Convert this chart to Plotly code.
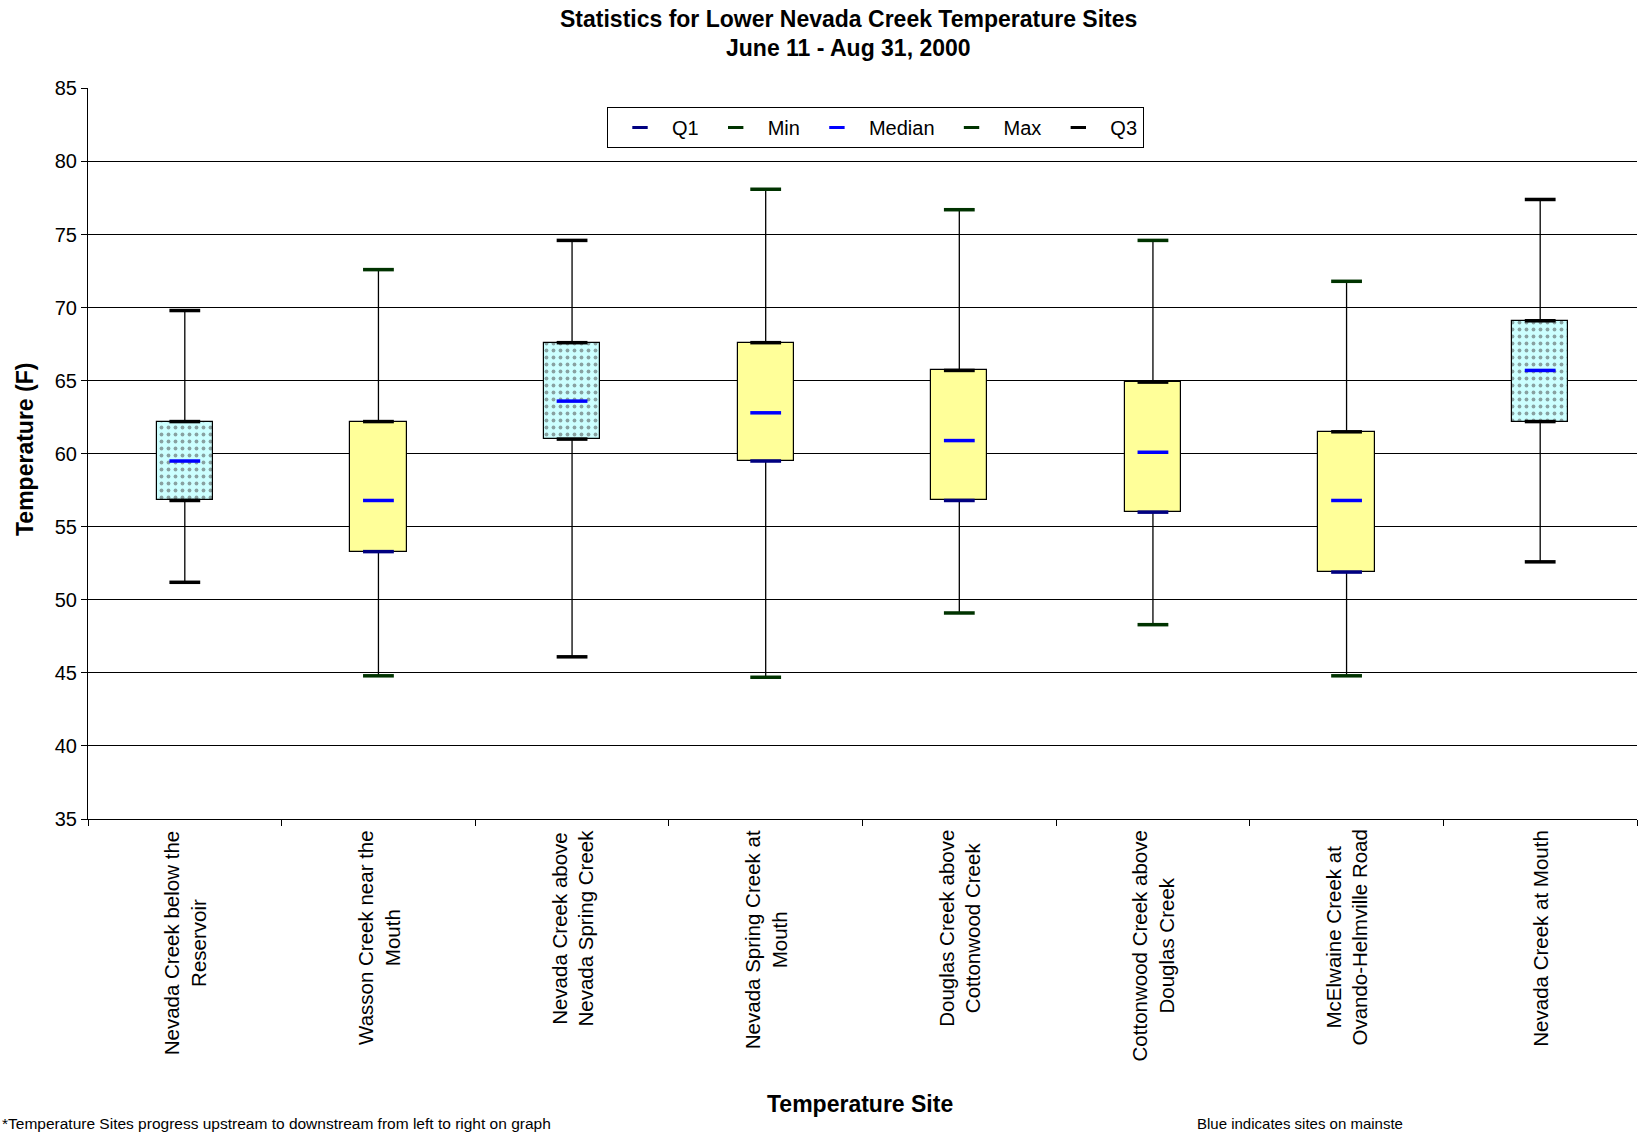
import plotly.graph_objects as go

# ---------------- data ----------------
sites = [
    "Nevada Creek below the<br>Reservoir",
    "Wasson Creek near the<br>Mouth",
    "Nevada Creek above<br>Nevada Spring Creek",
    "Nevada Spring Creek at<br>Mouth",
    "Douglas Creek above<br>Cottonwood Creek",
    "Cottonwood Creek above<br>Douglas Creek",
    "McElwaine Creek at<br>Ovando-Helmville Road",
    "Nevada Creek at Mouth",
]
q1 = [56.8, 53.3, 61.0, 59.5, 56.8, 56.0, 51.9, 62.2]
min_t = [51.2, 44.8, 46.1, 44.7, 49.1, 48.3, 44.8, 52.6]
median = [59.5, 56.8, 63.6, 62.8, 60.9, 60.1, 56.8, 65.7]
max_t = [69.8, 72.6, 74.6, 78.1, 76.7, 74.6, 71.8, 77.4]
q3 = [62.2, 62.2, 67.6, 67.6, 65.7, 64.9, 61.5, 69.1]
mainstem = [True, False, True, False, False, False, False, True]
y_ticks = [35, 40, 45, 50, 55, 60, 65, 70, 75, 80, 85]

# ---------------- layout geometry ----------------
W, H = 1640, 1134
L, R, T, B = 88, 3, 88, 315
PW, PH = W - L - R, H - T - B
FONT = "Liberation Sans, Arial, sans-serif"


def px_x(x):
    return (x - L) / PW


def px_y(y):
    return (H - B - y) / PH


series_colors = {
    "Q1": "#000080",
    "Min": "#003300",
    "Median": "#0000FF",
    "Max": "#003300",
    "Q3": "#000000",
}

fig = go.Figure()

# high-low lines (min to Q1, Q3 to max)
wx, wy = [], []
for s, lo, a, b, hi in zip(sites, min_t, q1, q3, max_t):
    wx += [s, s, None, s, s, None]
    wy += [lo, a, None, b, hi, None]
fig.add_trace(go.Scatter(x=wx, y=wy, mode="lines",
                         line=dict(color="#000000", width=1.3),
                         showlegend=False, hoverinfo="skip"))

# Q1 - Q3 boxes
fig.add_trace(go.Bar(
    x=sites,
    y=[b - a for a, b in zip(q1, q3)],
    base=q1,
    width=0.29,
    marker=dict(
        color=["#CCFFFF" if m else "#FFFF99" for m in mainstem],
        line=dict(color="#000000", width=1.2),
        pattern=dict(shape=["." if m else "" for m in mainstem],
                     fgcolor="#333333", size=7, solidity=0.24),
    ),
    showlegend=False, hoverinfo="skip",
))

# caps / markers
series = [("Q1", q1), ("Min", min_t), ("Median", median), ("Max", max_t), ("Q3", q3)]
for name, vals in series:
    base_col = series_colors[name]
    if name == "Median":
        cols = [base_col] * len(sites)
    else:
        cols = ["#000000" if m else base_col for m in mainstem]
    fig.add_trace(go.Scatter(
        x=sites, y=vals, mode="markers", name=name,
        marker=dict(symbol="line-ew", size=22,
                    line=dict(color=cols, width=3.5)),
        showlegend=False,
    ))

# legend entries
for name, _ in series:
    fig.add_trace(go.Scatter(
        x=[sites[0]], y=[None], mode="markers", name=name,
        marker=dict(symbol="line-ew", size=11,
                    line=dict(color=series_colors[name], width=3)),
        showlegend=True,
    ))

fig.update_layout(
    width=W, height=H,
    margin=dict(l=L, r=R, t=T, b=B),
    paper_bgcolor="white", plot_bgcolor="white",
    font=dict(family=FONT, size=20, color="#000000"),
    bargap=0,
    legend=dict(
        orientation="h",
        x=px_x(607), y=px_y(107), xanchor="left", yanchor="top",
        bordercolor="#000000", borderwidth=1, bgcolor="white",
        font=dict(size=20, family=FONT),
        itemwidth=54,
    ),
    xaxis=dict(
        type="category",
        showticklabels=False,
        ticks="outside", ticklen=6, tickcolor="#000000",
        tickson="boundaries",
        showline=True, linecolor="#000000", linewidth=1,
        showgrid=False, zeroline=False,
        range=[-0.5, len(sites) - 0.5],
    ),
    yaxis=dict(
        range=[35, 85.03], tickvals=y_ticks, ticktext=[str(v) for v in y_ticks],
        ticks="outside", ticklen=6, tickcolor="#000000",
        showline=True, linecolor="#000000", linewidth=1,
        showgrid=True, gridcolor="#000000", gridwidth=1,
        zeroline=False,
        tickfont=dict(size=20, family=FONT),
    ),
)

# title lines
fig.add_annotation(x=px_x(848), y=px_y(19), xref="paper", yref="paper",
                   text="<b>Statistics for Lower Nevada Creek Temperature Sites</b>",
                   showarrow=False, xanchor="center", yanchor="middle",
                   font=dict(size=23, family=FONT))
fig.add_annotation(x=px_x(848), y=px_y(48), xref="paper", yref="paper",
                   text="<b>June 11 - Aug 31, 2000</b>",
                   showarrow=False, xanchor="center", yanchor="middle",
                   font=dict(size=23, family=FONT))

# y axis title
fig.add_annotation(x=px_x(25), y=px_y(450), xref="paper", yref="paper",
                   text="<b>Temperature (F)</b>", textangle=-90,
                   showarrow=False, xanchor="center", yanchor="middle",
                   font=dict(size=23, family=FONT))

# category labels (rotated, centered lines)
for s in sites:
    fig.add_annotation(
        x=s, xref="x", y=0, yref="paper", yshift=-9,
        text=s, textangle=-90, showarrow=False,
        xanchor="center", yanchor="top", align="center",
        font=dict(size=20.5, family=FONT),
    )

# axis title and footnotes
fig.add_annotation(x=px_x(860), y=px_y(1104), xref="paper", yref="paper",
                   text="<b>Temperature Site</b>", showarrow=False,
                   xanchor="center", yanchor="middle",
                   font=dict(size=23, family=FONT))
fig.add_annotation(x=px_x(0), y=px_y(1123), xref="paper", yref="paper",
                   text="*Temperature Sites progress upstream to downstream from left to right on graph",
                   showarrow=False, xanchor="left", yanchor="middle",
                   font=dict(size=15.5, family=FONT))
fig.add_annotation(x=px_x(1195), y=px_y(1123), xref="paper", yref="paper",
                   text="Blue indicates sites on mainste",
                   showarrow=False, xanchor="left", yanchor="middle",
                   font=dict(size=15, family=FONT))

fig.write_html("out.html", post_script="document.body.style.margin='0px';",
               config={"displayModeBar": False})
